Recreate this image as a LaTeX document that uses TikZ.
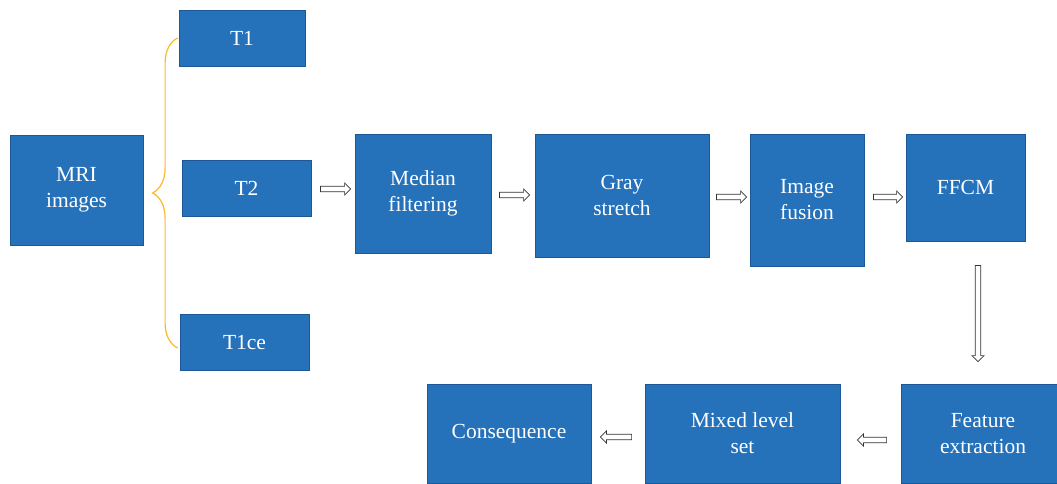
\documentclass[tikz,border=0pt]{standalone}
\usepackage{fontspec}
\setmainfont{Liberation Serif}
\usetikzlibrary{calc,decorations.pathreplacing}
\definecolor{boxfill}{RGB}{37,113,186}
\definecolor{boxline}{RGB}{28,88,150}
\definecolor{braceorange}{RGB}{252,186,40}
\tikzset{
  box/.style={draw=boxline, line width=0.8pt, fill=boxfill, text=white, align=center,
    inner sep=0pt, font=\fontsize{21.5}{26}\selectfont},
  blk/.style={draw=black!80, line width=0.7pt, fill=white,
    to path={let \p1=(\tikztostart), \p2=(\tikztotarget),
      \n1={veclen(\x2-\x1,\y2-\y1)}, \n2={atan2(\y2-\y1,\x2-\x1)} in
      [shift={(\p1)}, rotate=\n2]
      (0pt,2.75pt) -- (\n1-6pt,2.75pt) -- (\n1-6pt,6pt) -- (\n1,0pt)
      -- (\n1-6pt,-6pt) -- (\n1-6pt,-2.75pt) -- (0pt,-2.75pt) -- cycle}},
  bracestyle/.style={draw=braceorange, line width=1.2pt, decorate,
    decoration={brace, amplitude=25pt}}
}
\begin{document}
\begin{tikzpicture}[x=1pt,y=-1pt]
\useasboundingbox (0,0) rectangle (1057,483);
\fill[white] (0,0) rectangle (1057,483);
\node[box, minimum width=133pt, minimum height=110pt] (MRI) at (76.5,190) {MRI\\images};
\node[box, minimum width=126pt, minimum height=56pt] (T1) at (242,38) {T1};
\node[box, minimum width=129pt, minimum height=56pt] (T2) at (246.5,188) {T2};
\node[box, minimum width=129pt, minimum height=56pt] (T1ce) at (244.5,342) {T1ce};
\node[box, minimum width=136pt, minimum height=119pt] (Median) at (423,193.5) {Median\\filtering};
\node[box, minimum width=174pt, minimum height=123pt] (Gray) at (622,195.5) {Gray\\stretch};
\node[box, minimum width=114pt, minimum height=132pt] (Fusion) at (807,200) {Image\\fusion};
\node[box, minimum width=119pt, minimum height=107pt] (FFCM) at (965.5,187.5) {FFCM};
\node[box, minimum width=164pt, minimum height=99pt] (Feature) at (983,433.5) {Feature\\extraction};
\node[box, minimum width=195pt, minimum height=99pt] (Mixed) at (742.5,433.5) {Mixed level\\set};
\node[box, minimum width=164pt, minimum height=99pt] (Cons) at (509,433.5) {Consequence};
% brace
\draw[bracestyle] ($(T1ce.west -| T1.west)+(-1,6)$) -- ($(T1.west)+(-1,0)$);
% arrows
\draw[blk] ($(T2.east)+(9,1)$) to ($(T2.east -| Median.west)+(-4,1)$);
\draw[blk] ($(Median.east)+(8,1.5)$) to ($(Median.east -| Gray.west)+(-5,1.5)$);
\draw[blk] ($(Gray.east)+(7,1.5)$) to ($(Gray.east -| Fusion.west)+(-3,1.5)$);
\draw[blk] ($(Fusion.east)+(9,-3)$) to ($(Fusion.east -| FFCM.west)+(-3,-3)$);
\draw[blk] ($(FFCM.south -| Feature.north)+(-5,24)$) to ($(Feature.north)+(-5,-22)$);
\draw[blk] ($(Feature.west)+(-14,6.5)$) to ($(Feature.west -| Mixed.east)+(17,6.5)$);
\draw[blk] ($(Mixed.west)+(-13,3.5)$) to ($(Mixed.west -| Cons.east)+(9,3.5)$);
\end{tikzpicture}
\end{document}
